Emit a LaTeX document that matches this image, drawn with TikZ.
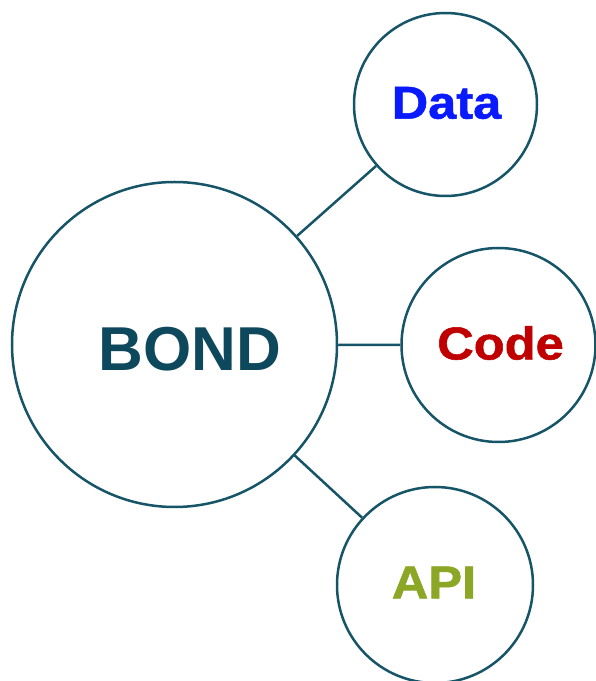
\documentclass[tikz,border=0pt]{standalone}
\usepackage{fontspec}
\setmainfont{Liberation Sans}
\newfontfamily\widefont[FakeStretch=1.1,FakeBold=1.2]{Liberation Sans Bold}
\definecolor{ring}{RGB}{22,84,104}
\definecolor{bondc}{RGB}{14,72,92}
\definecolor{datac}{RGB}{10,26,255}
\definecolor{codec}{RGB}{192,0,0}
\definecolor{apic}{RGB}{140,166,38}
\begin{document}
\begin{tikzpicture}[x=1pt,y=1pt,
  bub/.style={circle,draw=ring,line width=2.5pt,inner sep=0pt,fill=white},
  lnk/.style={draw=ring,line width=2.5pt},
  small/.style={font=\widefont\fontsize{46}{50}\selectfont}]
\useasboundingbox (0,0) rectangle (596,681);
\node[bub,minimum size=325pt,
  label={[xshift=15.5pt,yshift=-4.7pt,text=bondc,font=\bfseries\fontsize{62}{66}\selectfont]center:BOND}]
  (bond) at (174.5,336.5) {};
\node[bub,minimum size=183pt,
  label={[xshift=1pt,yshift=1.5pt,text=datac,small]center:Data}]
  (data) at (445.5,576.5) {};
\node[bub,minimum size=194pt,
  label={[xshift=2pt,yshift=2pt,text=codec,small]center:Code}]
  (code) at (498.5,336) {};
\node[bub,minimum size=196pt,
  label={[xshift=-1pt,yshift=2.5pt,text=apic,small]center:API}]
  (api) at (435,96) {};
\draw[lnk] (bond) -- (data);
\draw[lnk] (bond) -- (code);
\draw[lnk] (bond) -- (api);
\end{tikzpicture}
\end{document}
